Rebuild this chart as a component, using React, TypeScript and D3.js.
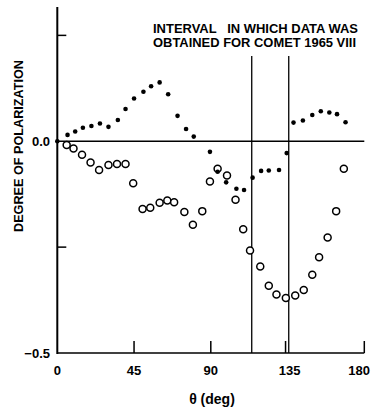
import React from 'react';
import * as d3 from 'd3';

// filled dots (upper series)
const filledTheta = [0, 6, 10.5, 15, 20, 25, 30, 35.5, 40, 45, 50.5, 55, 60, 65, 70.5, 75.5, 80, 89.5, 94, 99, 105, 109.5, 114.5, 119.5, 124, 130, 134.5, 138.5, 144, 149.5, 154.5, 159.5, 164, 169];
const filledP = [0, 0.015, 0.023, 0.032, 0.036, 0.042, 0.034, 0.05, 0.076, 0.101, 0.117, 0.13, 0.139, 0.111, 0.06, 0.029, 0.011, -0.025, -0.072, -0.097, -0.112, -0.115, -0.086, -0.07, -0.069, -0.068, -0.028, 0.044, 0.049, 0.062, 0.071, 0.068, 0.064, 0.045];

// open circles (lower series)
const openTheta = [5.5, 9.5, 14.5, 19.5, 24.5, 30, 35, 40, 44.5, 50, 54.5, 60, 64.5, 68.5, 74.5, 79.5, 85, 89.5, 94, 99.5, 104.5, 109, 113, 119, 124, 128.5, 134, 139.5, 144.5, 149.5, 153.5, 158.5, 163.5, 168];
const openP = [-0.009, -0.017, -0.032, -0.05, -0.068, -0.056, -0.054, -0.054, -0.099, -0.16, -0.157, -0.145, -0.14, -0.144, -0.167, -0.197, -0.165, -0.095, -0.065, -0.081, -0.138, -0.208, -0.258, -0.296, -0.341, -0.362, -0.37, -0.364, -0.351, -0.315, -0.274, -0.227, -0.165, -0.065];

const xTicks = [45, 90, 135, 180];
const xTickLabels = ['0', '45', '90', '135', '180'];
const yMinorTicks = [0.25, -0.25];
const yTickLabels = ['0.0', '\u22120.5'];
const intervalBounds = [114, 135.7];
const noteLines = ['INTERVAL   IN WHICH DATA WAS', 'OBTAINED FOR COMET 1965 VIII'];

const W = 373;
const H = 407;
const font = '"Liberation Sans", Arial, sans-serif';

export default function App() {
  const x = d3.scaleLinear().domain([0, 180]).range([57.3, 364.3]);
  const y = d3.scaleLinear().domain([-0.5, 0.317]).range([353, 7]);

  return (
    <div style={{ position: 'absolute', left: 0, top: 0 }}>
      <svg width={W} height={H} style={{ display: 'block', background: '#fff' }}>
        {/* axes */}
        <line x1={x(0)} x2={x(0)} y1={y(0.317)} y2={y(-0.5) + 1} stroke="#000" strokeWidth={2} />
        <line x1={x(0)} x2={x(180)} y1={y(-0.5)} y2={y(-0.5)} stroke="#000" strokeWidth={1.6} />
        <line x1={x(0)} x2={x(180)} y1={y(0)} y2={y(0)} stroke="#000" strokeWidth={1.3} />
        {xTicks.map(t => (
          <line key={t} x1={x(t) - (t === 135 ? 2 : 0)} x2={x(t) - (t === 135 ? 2 : 0)} y1={y(-0.5)} y2={y(-0.5) - 12} stroke="#000" strokeWidth={1.5} />
        ))}
        {yMinorTicks.map(t => (
          <line key={t} x1={x(0)} x2={x(0) + 9} y1={y(t)} y2={y(t)} stroke="#000" strokeWidth={1.5} />
        ))}
        {/* interval lines */}
        {intervalBounds.map(b => (
          <line key={b} x1={x(b)} x2={x(b)} y1={56} y2={y(-0.5)} stroke="#000" strokeWidth={1.3} />
        ))}
        {noteLines.map((s, i) => (
          <text key={i} x={153} y={33 + i * 14} fontFamily={font} fontWeight="bold" fontSize={12.5}
            textLength={i === 0 ? 205 : 203} lengthAdjust="spacingAndGlyphs" fill="#000"
            style={{ whiteSpace: 'pre' }}>{s}</text>
        ))}
        {/* tick labels */}
        {[0, -0.5].map((v, i) => (
          <text key={v} x={50} y={y(v) + 4.5} textAnchor="end" fontFamily={font} fontWeight="bold" fontSize={13}>{yTickLabels[i]}</text>
        ))}
        {[0, ...xTicks].map((t, i) => (
          <text key={t} x={t === 180 ? 370 : x(t) + (t === 135 ? 2 : 0)} y={374.5}
            textAnchor={t === 180 ? 'end' : 'middle'} fontFamily={font} fontWeight="bold" fontSize={13}>{xTickLabels[i]}</text>
        ))}
        <text x={212} y={403.5} textAnchor="middle" fontFamily={font} fontWeight="bold" fontSize={14}>θ (deg)</text>
        <text transform={`translate(22.5,146) rotate(-90)`} textAnchor="middle" fontFamily={font} fontWeight="bold" fontSize={12.5}
          textLength={172} lengthAdjust="spacingAndGlyphs">DEGREE OF POLARIZATION</text>
        {/* data */}
        {openTheta.map((t, i) => (
          <circle key={'o' + i} cx={x(t)} cy={y(openP[i])} r={3.5} fill="#fff" stroke="#000" strokeWidth={1.5} />
        ))}
        {filledTheta.map((t, i) => (
          <circle key={'f' + i} cx={x(t)} cy={y(filledP[i])} r={2.3} fill="#000" />
        ))}
      </svg>
    </div>
  );
}
